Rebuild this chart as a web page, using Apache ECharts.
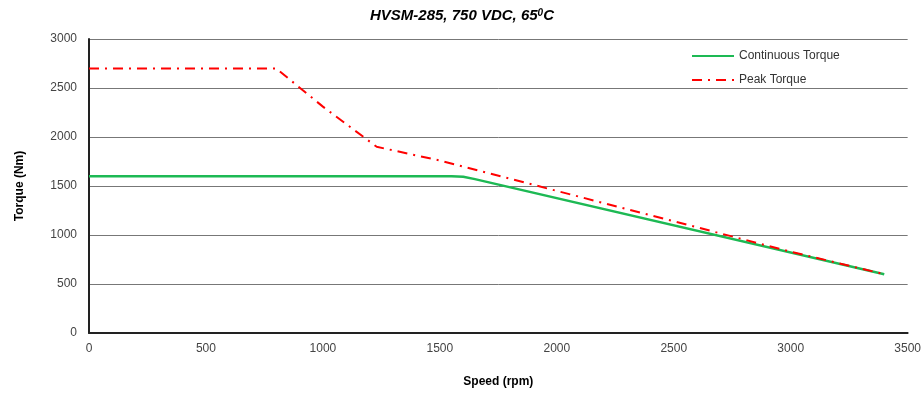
<!DOCTYPE html>
<html>
<head>
<meta charset="utf-8">
<script src="https://cdn.jsdelivr.net/npm/echarts@6/dist/echarts.min.js"></script>
<style>
  html, body { margin: 0; padding: 0; background: #fff; }
  #chart { width: 924px; height: 394px; }
</style>
</head>
<body>
<div id="chart"></div>
<script>
// speed (rpm) / torque (Nm) pairs
const continuousSpeed = [0, 1550, 1600, 1650, 3400];
const continuousTorque = [1600, 1600, 1595, 1570, 600];
const peakSpeed = [0, 800, 1000, 1230, 1500, 2000, 2500, 3000, 3400];
const peakTorque = [2700, 2700, 2310, 1900, 1760, 1450, 1140, 830, 600];

const pairs = (xs, ys) => xs.map((x, i) => [x, ys[i]]);

const font = "Liberation Sans";
const chart = echarts.init(document.getElementById("chart"));

chart.setOption({
  animation: false,
  title: {
    text: "{a|HVSM-285, 750 VDC, 65}{sup|0}{a|C}",
    left: "center",
    top: 3,
    textStyle: {
      rich: {
        a: { fontFamily: font, fontSize: 15, fontWeight: "bold", fontStyle: "italic", color: "#000" },
        sup: { fontFamily: font, fontSize: 10, fontWeight: "bold", fontStyle: "italic", color: "#000", verticalAlign: "top", padding: [0, 0, 6, 0] },
      },
    },
  },
  legend: {
    orient: "vertical",
    left: 691,
    top: 50,
    padding: 0,
    itemWidth: 42,
    itemHeight: 10,
    itemGap: 12,
    itemStyle: { opacity: 0 },
    textStyle: { fontFamily: font, fontSize: 12, color: "#333" },
    data: ["Continuous Torque", "Peak Torque"],
  },
  grid: { left: 89, right: 16, top: 39, bottom: 61 },
  xAxis: {
    type: "value",
    min: 0,
    max: 3500,
    interval: 500,
    name: "Speed (rpm)",
    nameLocation: "middle",
    nameGap: 43,
    nameTextStyle: { fontFamily: font, fontSize: 12, fontWeight: "bold", color: "#000" },
    axisLine: { lineStyle: { color: "#222", width: 2 } },
    axisTick: { show: false },
    axisLabel: { fontFamily: font, fontSize: 12, color: "#444", margin: 10, formatter: (v) => String(v) },
    splitLine: { show: false },
  },
  yAxis: {
    type: "value",
    min: 0,
    max: 3000,
    interval: 500,
    name: "Torque (Nm)",
    nameLocation: "middle",
    nameGap: 63,
    nameTextStyle: { fontFamily: font, fontSize: 12, fontWeight: "bold", color: "#000" },
    axisLine: { show: true, lineStyle: { color: "#222", width: 2 } },
    axisTick: { show: false },
    axisLabel: { fontFamily: font, fontSize: 12, color: "#444", margin: 12, formatter: (v) => String(v) },
    splitLine: { lineStyle: { color: "#777", width: 1 } },
  },
  series: [
    {
      name: "Continuous Torque",
      type: "line",
      data: pairs(continuousSpeed, continuousTorque),
      showSymbol: false,
      symbol: "none",
      lineStyle: { color: "#1db954", width: 2.5 },
      itemStyle: { color: "#1db954" },
      z: 3,
    },
    {
      name: "Peak Torque",
      type: "line",
      data: pairs(peakSpeed, peakTorque),
      showSymbol: false,
      symbol: "none",
      lineStyle: { color: "#ff0000", width: 2, type: [10, 6, 2, 6] },
      itemStyle: { color: "#ff0000" },
      z: 4,
    },
  ],
});
</script>
</body>
</html>
